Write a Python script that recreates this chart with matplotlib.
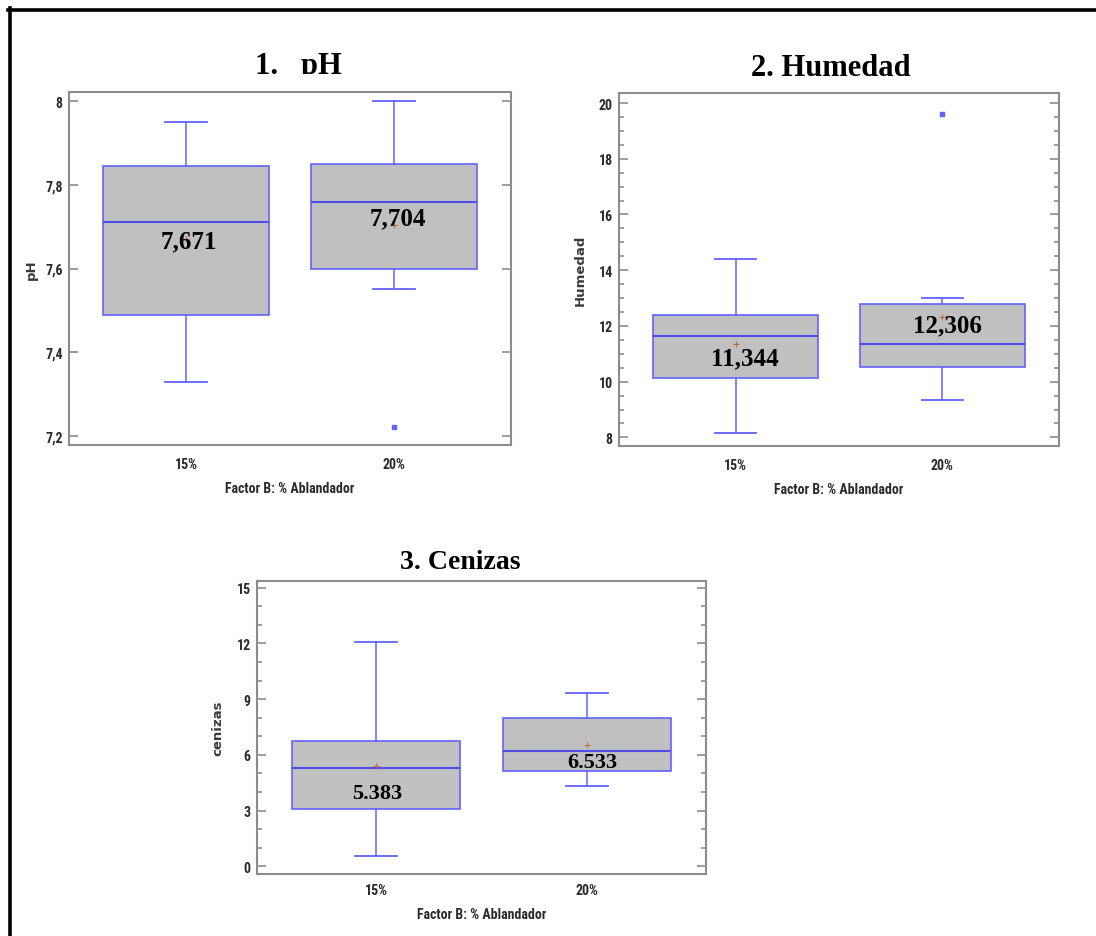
import matplotlib
matplotlib.use("Agg")
import matplotlib.pyplot as plt
from matplotlib import font_manager
from matplotlib.lines import Line2D
from matplotlib.patches import Rectangle
from matplotlib.ticker import MultipleLocator

groups = ["15%", "20%"]
xlabel = "Factor B: % Ablandador"

# 1. pH
ph_q1 = [7.49, 7.60]
ph_med = [7.71, 7.76]
ph_q3 = [7.845, 7.85]
ph_lo = [7.33, 7.55]
ph_hi = [7.95, 8.00]
ph_mean = [7.671, 7.704]
ph_fliers = [[], [7.222]]
ph_labels = ["7,671", "7,704"]
ph_ticks = [7.2, 7.4, 7.6, 7.8, 8.0]
ph_ticklabels = ["7,2", "7,4", "7,6", "7,8", "8"]

# 2. Humedad
hum_q1 = [10.13, 10.53]
hum_med = [11.63, 11.34]
hum_q3 = [12.40, 12.80]
hum_lo = [8.16, 9.35]
hum_hi = [14.39, 13.00]
hum_mean = [11.344, 12.306]
hum_fliers = [[], [19.6]]
hum_labels = ["11,344", "12,306"]
hum_ticks = [8, 10, 12, 14, 16, 18, 20]
hum_ticklabels = ["8", "10", "12", "14", "16", "18", "20"]

# 3. Cenizas
cen_q1 = [3.08, 5.12]
cen_med = [5.30, 6.22]
cen_q3 = [6.76, 8.01]
cen_lo = [0.56, 4.35]
cen_hi = [12.07, 9.34]
cen_mean = [5.383, 6.533]
cen_fliers = [[], []]
cen_labels = ["5.383", "6.533"]
cen_ticks = [0, 3, 6, 9, 12, 15]
cen_ticklabels = ["0", "3", "6", "9", "12", "15"]

W, H = 1096, 937
fig = plt.figure(figsize=(W / 100, H / 100), dpi=100)
fig.patch.set_facecolor("white")

# the small labels in the original are a condensed sans; use one if installed
installed = {f.name for f in font_manager.fontManager.ttflist}
narrow_name = None
for cand in ["Liberation Sans Narrow", "Arial Narrow", "DejaVu Sans Condensed",
             "Roboto Condensed", "Open Sans Condensed"]:
    if cand in installed:
        narrow_name = cand
        break
if narrow_name:
    narrow = [narrow_name, "DejaVu Sans"]
    small = 10
else:
    narrow = ["Liberation Sans", "DejaVu Sans"]
    small = 8.5

serif = ["Liberation Serif", "DejaVu Serif"]
blue = "#6262ff"
med_blue = "#4e4ee6"
spine_grey = "#8c8c8c"
text_grey = "#2a2a2a"


def px_rect(left, top, right, bottom):
    return [left / W, 1 - bottom / H, (right - left) / W, (bottom - top) / H]


def panel(rect, q1, med, q3, lo, hi, mean, fliers, labels, offsets,
          ticks, ticklabels, ylim, minor, ylabel, ylab_x, ann_size, xpad):
    ax = fig.add_axes(rect)
    stats = []
    for i in range(len(groups)):
        stats.append(dict(med=med[i], q1=q1[i], q3=q3[i], whislo=lo[i],
                          whishi=hi[i], mean=mean[i], fliers=fliers[i],
                          label=groups[i]))
    ax.bxp(stats, positions=[1, 2], widths=0.8, capwidths=0.2,
           patch_artist=True, showmeans=True,
           boxprops=dict(facecolor="#c0c0c0", edgecolor=blue, linewidth=1.2),
           whiskerprops=dict(color=blue, linewidth=1.1),
           capprops=dict(color=blue, linewidth=1.3),
           medianprops=dict(color=med_blue, linewidth=1.5),
           meanprops=dict(marker="+", markeredgecolor="#b8703c",
                          markersize=4, markeredgewidth=0.8),
           flierprops=dict(marker="s", markersize=2.2, markerfacecolor=blue,
                           markeredgecolor=blue, linestyle="none"))
    for i, txt in enumerate(labels):
        ax.annotate(txt, (i + 1, mean[i]), xytext=offsets[i],
                    textcoords="offset pixels", ha="center", va="center",
                    fontsize=ann_size, fontweight="bold", family=serif,
                    color="black", zorder=5)
    ax.set_xlim(0.435, 2.565)
    ax.set_ylim(*ylim)
    ax.set_yticks(ticks)
    ax.set_yticklabels(ticklabels)
    if minor:
        ax.yaxis.set_minor_locator(MultipleLocator(minor))
    for s in ax.spines.values():
        s.set_color(spine_grey)
        s.set_linewidth(1.5)
    ax.tick_params(axis="y", which="both", direction="in", left=True,
                   right=True, color=spine_grey, width=1.2, pad=4.5,
                   labelsize=small, labelcolor=text_grey)
    ax.tick_params(axis="y", which="major", length=6.5)
    ax.tick_params(axis="y", which="minor", length=3.5)
    ax.tick_params(axis="x", length=0, pad=xpad, labelsize=small,
                   labelcolor=text_grey)
    for lbl in ax.get_xticklabels() + ax.get_yticklabels():
        lbl.set_family(narrow)
        lbl.set_fontweight("bold")
    ax.set_xlabel(xlabel, fontsize=small, fontweight="bold", family=narrow,
                  color=text_grey, labelpad=7)
    ax.set_ylabel(ylabel, fontsize=9.5, fontweight="bold", color="#3a3a3a")
    ax.yaxis.set_label_coords(ylab_x, 0.5)
    return ax


panel(px_rect(69, 93, 511, 446), ph_q1, ph_med, ph_q3, ph_lo, ph_hi,
      ph_mean, ph_fliers, ph_labels, [(3, -2), (4, 7)],
      ph_ticks, ph_ticklabels, (7.1785, 8.0215), None, "pH", -0.071, 18, 8.5)

panel(px_rect(619, 94, 1059, 447), hum_q1, hum_med, hum_q3, hum_lo, hum_hi,
      hum_mean, hum_fliers, hum_labels, [(9, -14), (5, -7)],
      hum_ticks, hum_ticklabels, (7.69, 20.36), 0.5, "Humedad", -0.074, 18, 8.5)

panel(px_rect(257, 582, 706, 875), cen_q1, cen_med, cen_q3, cen_lo, cen_hi,
      cen_mean, cen_fliers, cen_labels, [(1, -27), (5, -17)],
      cen_ticks, cen_ticklabels, (-0.41, 15.36), 1, "cenizas", -0.072, 16, 6.5)

# panel titles
fig.text(298 / W, 1 - 74 / H, "1.   pH", ha="center", va="baseline",
         fontsize=22, fontweight="bold", family=serif)
fig.text(831 / W, 1 - 76 / H, "2. Humedad", ha="center", va="baseline",
         fontsize=22, fontweight="bold", family=serif)
fig.text(460 / W, 1 - 569 / H, "3. Cenizas", ha="center", va="baseline",
         fontsize=20, fontweight="bold", family=serif)
# the first title is cut just under its baseline
fig.add_artist(Rectangle((240 / W, 1 - 88 / H), 120 / W, 13.5 / H,
                         transform=fig.transFigure, facecolor="white",
                         edgecolor="none", zorder=10))

# black frame, top and left only
fig.add_artist(Line2D([8 / W, 1], [1 - 10.5 / H, 1 - 10.5 / H],
                      transform=fig.transFigure, color="black", lw=2.6))
fig.add_artist(Line2D([9.5 / W, 9.5 / W], [0, 1 - 9 / H],
                      transform=fig.transFigure, color="black", lw=2.6))

fig.savefig("out.png", dpi=100)
